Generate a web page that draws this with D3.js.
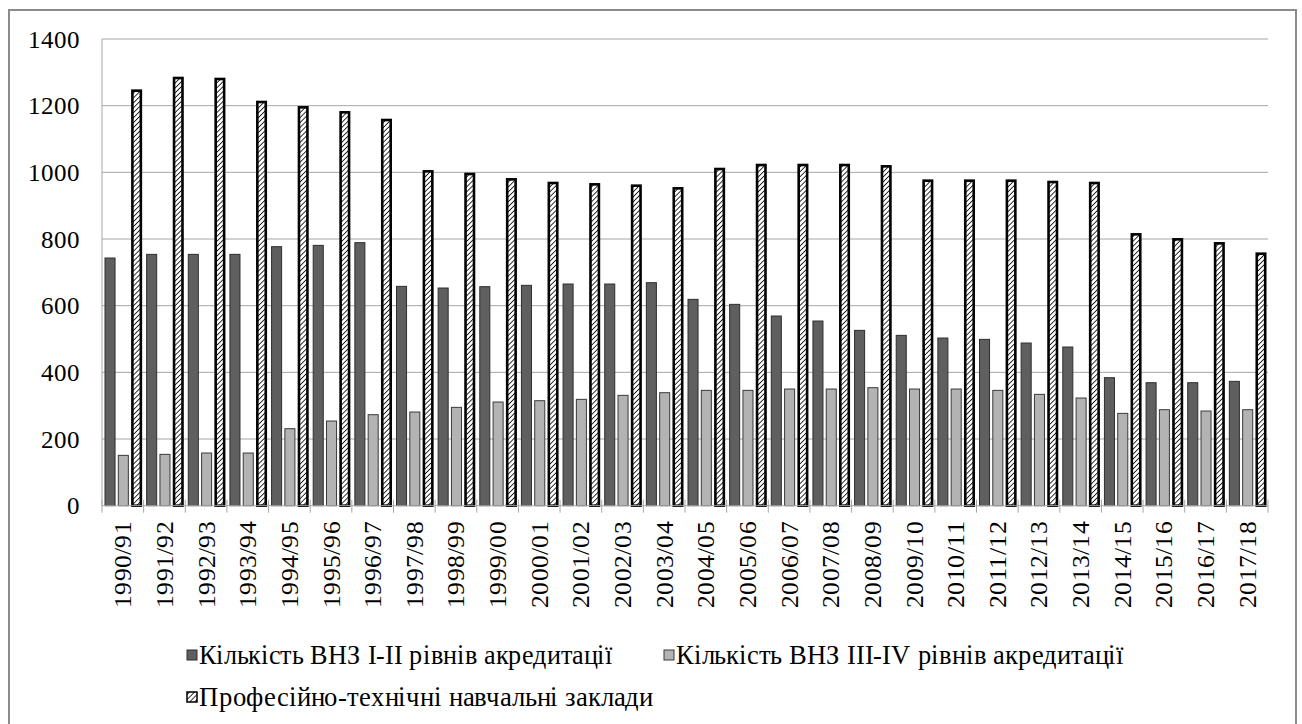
<!DOCTYPE html>
<html>
<head>
<meta charset="utf-8">
<script src="https://cdn.jsdelivr.net/npm/d3@7"></script>
<style>
  @font-face { font-family: 'ChartSerif'; src: local('Liberation Serif'), local('LiberationSerif'), local('Liberation Serif Regular'), local('Tinos'); }
</style>
</head>
<body style="margin:0">
<div id="c"></div>
<script>
// data
const years = ['1990/91', '1991/92', '1992/93', '1993/94', '1994/95', '1995/96', '1996/97',
  '1997/98', '1998/99', '1999/00', '2000/01', '2001/02', '2002/03', '2003/04', '2004/05',
  '2005/06', '2006/07', '2007/08', '2008/09', '2009/10', '2010/11', '2011/12', '2012/13',
  '2013/14', '2014/15', '2015/16', '2016/17', '2017/18'];

const vnz12 = [743, 754, 754, 754, 777, 781, 789, 658, 653, 657, 661, 665, 665, 669, 619,
  604, 569, 554, 526, 511, 503, 499, 488, 476, 384, 369, 369, 373];
const vnz34 = [151, 154, 158, 158, 231, 254, 273, 281, 295, 311, 315, 319, 331, 339, 346,
  346, 350, 350, 354, 350, 350, 346, 334, 323, 277, 288, 284, 288];
const ptnz = [1245, 1283, 1280, 1211, 1195, 1180, 1157, 1003, 995, 979, 968, 964, 960, 952, 1010,
  1022, 1022, 1022, 1018, 975, 975, 975, 971, 968, 814, 799, 787, 756];

const seriesNames = ['Кількість ВНЗ І-ІІ  рівнів акредитації',
  'Кількість ВНЗ ІІІ-ІV  рівнів акредитації',
  'Професійно-технічні навчальні заклади'];
const yTicks = [0, 200, 400, 600, 800, 1000, 1200, 1400];

const keys = ['a', 'b', 'c'];
const values = {a: vnz12, b: vnz34, c: ptnz};
const fam = 'ChartSerif';

const svg = d3.select('#c').append('svg')
  .attr('width', 1302).attr('height', 724);

// hatch pattern
const pat = svg.append('defs').append('pattern')
  .attr('id', 'hatch')
  .attr('patternUnits', 'userSpaceOnUse')
  .attr('width', 3.5).attr('height', 3.5)
  .attr('patternTransform', 'rotate(45)');
pat.append('rect').attr('width', 3.5).attr('height', 3.5).attr('fill', '#fff');
pat.append('line').attr('x1', 0).attr('y1', 0).attr('x2', 0).attr('y2', 3.5)
  .attr('stroke', '#000').attr('stroke-width', 1.6);

// outer frame
svg.append('rect')
  .attr('x', 9).attr('y', 10).attr('width', 1287).attr('height', 740)
  .attr('fill', 'none').attr('stroke', '#8c8c8c').attr('stroke-width', 2);

// scales
const x = d3.scaleBand().domain(years).range([102, 1268]);
const xSub = d3.scaleBand().domain(keys).range([2.5, x.bandwidth() - 1.5]).paddingInner(0.17);
const y = d3.scaleLinear().domain([0, 1400]).range([505.7, 39]);

// gridlines
svg.append('g').selectAll('line')
  .data(yTicks.filter(d => d > 0))
  .enter().append('line')
  .attr('x1', 102).attr('x2', 1268)
  .attr('y1', d => y(d)).attr('y2', d => y(d))
  .attr('stroke', '#a6a6a6').attr('stroke-width', 1);

svg.append('line')
  .attr('x1', 102).attr('x2', 102).attr('y1', y(1400)).attr('y2', y(0))
  .attr('stroke', '#a6a6a6').attr('stroke-width', 1);

// y labels
yTicks.forEach(t => {
  svg.append('text')
    .style('font-family', fam)
    .attr('font-size', 25)
    .attr('x', 80).attr('y', y(t) + 8.5)
    .attr('text-anchor', 'end')
    .text(t);
});

// bars
const groups = svg.append('g').selectAll('g')
  .data(years)
  .enter().append('g')
  .attr('transform', d => `translate(${x(d)},0)`);

const fills = {a: '#5f5f5f', b: '#b3b3b3', c: 'url(#hatch)'};
const strokes = {a: '#2e2e2e', b: '#3a3a3a', c: '#000'};
const sw = {a: 1, b: 1, c: 2.6};

groups.selectAll('rect')
  .data((d, i) => keys.map(k => ({k, v: values[k][i]})))
  .enter().append('rect')
  .attr('x', d => xSub(d.k) + sw[d.k] / 2)
  .attr('width', d => xSub.bandwidth() - sw[d.k])
  .attr('y', d => y(d.v))
  .attr('height', d => y(0) - y(d.v))
  .attr('fill', d => fills[d.k])
  .attr('stroke', d => strokes[d.k])
  .attr('stroke-width', d => sw[d.k]);

// x axis line and ticks
svg.append('line')
  .attr('x1', 102).attr('x2', 1268).attr('y1', y(0)).attr('y2', y(0))
  .attr('stroke', '#a6a6a6').attr('stroke-width', 1);

svg.append('g').selectAll('line')
  .data(d3.range(years.length + 1))
  .enter().append('line')
  .attr('x1', i => 102 + i * x.step()).attr('x2', i => 102 + i * x.step())
  .attr('y1', y(0) - 6).attr('y2', y(0) + 7)
  .attr('stroke', '#a6a6a6').attr('stroke-width', 1);

// x labels
years.forEach(yr => {
  svg.append('text')
    .style('font-family', fam)
    .attr('font-size', 25)
    .attr('transform', `translate(${x(yr) + x.bandwidth() / 2 + 8.5},521) rotate(-90)`)
    .attr('text-anchor', 'end')
    .attr('textLength', 87)
    .attr('lengthAdjust', 'spacingAndGlyphs')
    .text(yr);
});

// legend
const legend = [
  {name: seriesNames[0], k: 'a', x: 187, y: 655, len: 414},
  {name: seriesNames[1], k: 'b', x: 664, y: 655, len: 448},
  {name: seriesNames[2], k: 'c', x: 187, y: 697, len: 454}
];
legend.forEach(d => {
  svg.append('rect')
    .attr('x', d.x).attr('y', d.y - 5).attr('width', 10).attr('height', 10)
    .attr('fill', fills[d.k])
    .attr('stroke', strokes[d.k])
    .attr('stroke-width', d.k == 'c' ? 1.5 : 1);
  svg.append('text')
    .style('font-family', fam)
    .attr('font-size', 27)
    .attr('x', d.x + 12).attr('y', d.y + 9)
    .attr('textLength', d.len)
    .attr('lengthAdjust', 'spacingAndGlyphs')
    .text(d.name);
});
</script>
</body>
</html>
